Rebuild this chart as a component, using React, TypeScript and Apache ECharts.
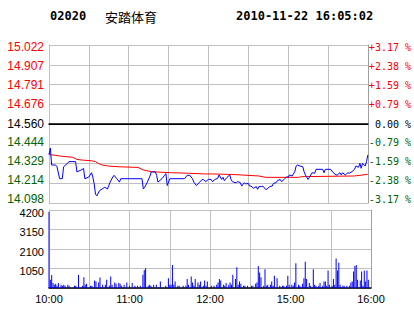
import React, { useEffect, useRef } from "react";
import * as echarts from "echarts";

const stockCode = "02020";
const stockName = "安踏体育";
const timestamp = "2010-11-22 16:05:02";
const prevClose = 14.56;
const priceStep = 0.1155;
const priceLabels = ["15.022", "14.907", "14.791", "14.676", "14.560", "14.444", "14.329", "14.214", "14.098"];
const percentLabels = ["+3.17 %", "+2.38 %", "+1.59 %", "+0.79 %", " 0.00 %", "-0.79 %", "-1.59 %", "-2.38 %", "-3.17 %"];
const volumeLabels = ["", "1050", "2100", "3150", "4200"];
const timeLabels = ["10:00", "", "11:00", "", "12:00", "", "15:00", "", "16:00"];

const priceMinutes = [0, 1, 2, 5, 6, 8, 10, 11, 14, 15, 20, 21, 24, 26, 27, 30, 32, 33, 34, 35, 36, 38, 40, 42, 44, 45, 46, 48, 49, 51, 53, 54, 70, 71, 72, 74, 76, 77, 80, 81, 82, 85, 87, 88, 89, 91, 102, 104, 106, 108, 109, 111, 113, 115, 116, 118, 120, 122, 123, 125, 127, 128, 130, 131, 132, 134, 136, 137, 138, 140, 141, 142, 144, 145, 147, 148, 150, 151, 152, 154, 156, 157, 158, 160, 161, 163, 164, 166, 168, 169, 171, 172, 174, 175, 177, 179, 180, 181, 183, 185, 186, 187, 189, 191, 192, 193, 195, 196, 197, 198, 200, 201, 204, 206, 207, 208, 210, 212, 214, 216, 217, 219, 220, 221, 223, 225, 226, 228, 230, 231, 233, 234, 235, 236, 238, 239, 240];
const priceValues = [14.38, 14.42, 14.32, 14.32, 14.31, 14.24, 14.24, 14.31, 14.33, 14.34, 14.34, 14.28, 14.29, 14.30, 14.24, 14.25, 14.275, 14.25, 14.21, 14.15, 14.14, 14.17, 14.18, 14.19, 14.18, 14.20, 14.22, 14.25, 14.26, 14.24, 14.22, 14.24, 14.24, 14.18, 14.19, 14.22, 14.255, 14.28, 14.28, 14.26, 14.22, 14.24, 14.26, 14.27, 14.20, 14.24, 14.24, 14.26, 14.26, 14.24, 14.22, 14.20, 14.217, 14.233, 14.236, 14.223, 14.236, 14.236, 14.223, 14.236, 14.242, 14.262, 14.236, 14.248, 14.229, 14.248, 14.262, 14.236, 14.223, 14.217, 14.217, 14.223, 14.217, 14.197, 14.217, 14.209, 14.213, 14.197, 14.197, 14.184, 14.194, 14.178, 14.194, 14.194, 14.197, 14.178, 14.178, 14.194, 14.197, 14.213, 14.217, 14.229, 14.236, 14.223, 14.236, 14.252, 14.248, 14.262, 14.256, 14.281, 14.314, 14.320, 14.314, 14.310, 14.281, 14.262, 14.236, 14.248, 14.262, 14.275, 14.272, 14.295, 14.295, 14.295, 14.275, 14.295, 14.295, 14.295, 14.275, 14.262, 14.262, 14.275, 14.262, 14.275, 14.262, 14.275, 14.272, 14.281, 14.295, 14.314, 14.307, 14.330, 14.301, 14.330, 14.314, 14.340, 14.379];

const avgMinutes = [0, 1, 3, 8, 18, 21, 25, 32, 35, 37, 40, 45, 52, 67, 71, 77, 92, 105, 117, 123, 140, 158, 163, 188, 190, 230, 240];
const avgValues = [14.388, 14.379, 14.379, 14.373, 14.365, 14.353, 14.349, 14.345, 14.340, 14.330, 14.320, 14.314, 14.310, 14.306, 14.291, 14.281, 14.275, 14.272, 14.268, 14.268, 14.264, 14.256, 14.248, 14.248, 14.252, 14.256, 14.266];

const volMinutes = [0, 1, 2, 3, 4, 5, 6, 7, 9, 10, 11, 12, 14, 15, 19, 20, 22, 25, 26, 27, 28, 31, 32, 34, 35, 37, 38, 40, 42, 43, 45, 46, 47, 49, 50, 52, 53, 54, 56, 58, 60, 62, 64, 66, 68, 70, 71, 72, 74, 75, 76, 78, 80, 83, 87, 89, 90, 91, 92, 93, 94, 96, 97, 100, 102, 103, 104, 106, 107, 108, 109, 111, 112, 113, 115, 116, 117, 118, 121, 123, 125, 126, 127, 128, 130, 131, 132, 134, 135, 136, 137, 139, 140, 141, 142, 143, 145, 146, 148, 151, 152, 154, 155, 156, 157, 158, 160, 161, 162, 163, 165, 166, 167, 168, 170, 172, 174, 175, 177, 178, 179, 181, 182, 183, 184, 186, 187, 189, 190, 191, 192, 194, 195, 197, 198, 199, 201, 202, 204, 205, 206, 207, 208, 209, 211, 212, 213, 214, 215, 216, 217, 219, 220, 222, 224, 225, 226, 227, 228, 229, 230, 232, 233, 234, 235, 236, 237, 238];
const volValues = [4100, 440, 700, 265, 177, 230, 124, 265, 177, 124, 177, 124, 177, 124, 124, 124, 700, 124, 584, 177, 230, 124, 124, 407, 354, 300, 566, 177, 177, 442, 124, 620, 177, 300, 230, 265, 230, 124, 177, 300, 124, 265, 124, 124, 124, 708, 974, 1062, 124, 177, 124, 177, 177, 354, 124, 531, 177, 177, 1239, 177, 354, 124, 124, 124, 124, 478, 177, 620, 300, 124, 478, 300, 177, 354, 124, 407, 124, 354, 124, 124, 177, 300, 478, 407, 177, 124, 265, 177, 300, 177, 708, 478, 1115, 177, 354, 230, 124, 124, 124, 124, 124, 230, 300, 1186, 832, 584, 124, 1009, 124, 177, 177, 354, 124, 655, 531, 124, 124, 124, 124, 655, 177, 177, 124, 300, 1328, 177, 124, 230, 531, 1416, 478, 265, 124, 1009, 177, 124, 124, 265, 124, 354, 354, 124, 938, 177, 124, 478, 177, 1593, 938, 1363, 177, 124, 124, 124, 124, 300, 354, 885, 1186, 1239, 442, 407, 885, 124, 938, 354, 938, 442];

const GRAY = "#c0c0c0";
const GREEN = "#006400";
const nb = (s: string) => s.replace(/ /g, "\u00a0");

// vertical nudge (px, + = down) of each price-axis label, to sit as in the reference
const shiftPadding = (d: number) => (d >= 0 ? [2 * d, 0, 0, 0] : [0, 0, -2 * d, 0]);

export default function App() {
  const ref = useRef<HTMLDivElement>(null);
  useEffect(() => {
    document.body.style.margin = "0";
    const chart = echarts.init(ref.current!, null, { renderer: "svg" });
    const pMin = -4 * priceStep;
    const pMax = 4 * priceStep;
    const idxOf = (v: number) => Math.round((pMax - v) / priceStep);
    const colorOf = (i: number) => (i < 4 ? "#ff0000" : i === 4 ? "#000" : GREEN);
    const shiftOf = (i: number) => (i === 4 ? 0 : 2.3 - 0.75 * i);
    const leftRich: any = {};
    const rightRich: any = {};
    for (let i = 0; i < 9; i++) {
      leftRich["p" + i] = { fontFamily: "Liberation Sans, Arial", fontSize: 12, color: colorOf(i), padding: shiftPadding(shiftOf(i)) };
      rightRich["p" + i] = { fontFamily: "DejaVu Sans Mono", fontSize: 10, color: colorOf(i), padding: shiftPadding(shiftOf(i)) };
    }
    const volRich = { v: { fontFamily: "Liberation Sans, Arial", fontSize: 11, color: "#000", padding: shiftPadding(2.6) } };
    const xCommon = {
      type: "value" as const,
      min: 0,
      max: 240,
      interval: 30,
      axisTick: { show: false },
      splitLine: { show: true, lineStyle: { color: GRAY, width: 1 } },
    };
    chart.setOption({
      animation: false,
      grid: [
        { left: 49, right: 43, top: 45, height: 158 },
        { left: 49, right: 43, top: 210, height: 78 },
      ],
      graphic: [
        { type: "text", x: 50, y: 16, style: { text: stockCode, font: 'bold 12px "DejaVu Sans Mono"', fill: "#000", verticalAlign: "middle" } },
        { type: "text", x: 105, y: 16, style: { text: stockName, font: '13px "Noto Sans CJK SC"', fill: "#000", verticalAlign: "middle" } },
        { type: "text", x: 236, y: 16, style: { text: timestamp, font: 'bold 12px "DejaVu Sans Mono"', fill: "#000", verticalAlign: "middle" } },
      ],
      xAxis: [
        { ...xCommon, gridIndex: 0, axisLabel: { show: false }, axisLine: { show: true, lineStyle: { color: "#000", width: 1.5 } } },
        {
          ...xCommon,
          gridIndex: 1,
          axisLine: { show: true, lineStyle: { color: "#000", width: 1.5 } },
          axisLabel: {
            show: true,
            margin: 5,
            color: "#000",
            fontFamily: "Liberation Sans, Arial",
            fontSize: 11,
            formatter: (v: number) => timeLabels[Math.round(v / 30)] ?? "",
          },
        },
      ],
      yAxis: [
        {
          type: "value",
          gridIndex: 0,
          min: pMin,
          max: pMax,
          interval: priceStep,
          axisLine: { show: true, lineStyle: { color: GRAY } },
          axisTick: { show: false },
          splitLine: { show: true, lineStyle: { color: GRAY } },
          axisLabel: {
            margin: 5,
            formatter: (v: number) => {
              const i = idxOf(v);
              return `{p${i}|${priceLabels[i] ?? ""}}`;
            },
            rich: leftRich,
          },
        },
        {
          type: "value",
          gridIndex: 0,
          position: "right",
          min: pMin,
          max: pMax,
          interval: priceStep,
          axisLine: { show: true, lineStyle: { color: "#a0a0a0" } },
          axisTick: { show: false },
          splitLine: { show: false },
          axisLabel: {
            margin: 1,
            align: "left",
            formatter: (v: number) => {
              const i = idxOf(v);
              return `{p${i}|${nb(percentLabels[i] ?? "")}}`;
            },
            rich: rightRich,
          },
        },
        {
          type: "value",
          gridIndex: 1,
          min: 0,
          max: 4200,
          interval: 1050,
          axisLine: { show: true, lineStyle: { color: GRAY } },
          axisTick: { show: false },
          splitLine: { show: true, lineStyle: { color: GRAY } },
          axisLabel: {
            margin: 5,
            formatter: (v: number) => {
              const t = volumeLabels[Math.round(v / 1050)] ?? "";
              return t ? `{v|${t}}` : "";
            },
            rich: volRich,
          },
        },
        {
          type: "value",
          gridIndex: 1,
          position: "right",
          min: 0,
          max: 4200,
          interval: 1050,
          axisLine: { show: true, lineStyle: { color: "#a0a0a0" } },
          axisTick: { show: false },
          splitLine: { show: false },
          axisLabel: { show: false },
        },
      ],
      series: [
        {
          type: "line",
          xAxisIndex: 0,
          yAxisIndex: 0,
          data: avgMinutes.map((m, i) => [m, avgValues[i] - prevClose]),
          showSymbol: false,
          lineStyle: { color: "#ff0000", width: 1 },
          itemStyle: { color: "#ff0000" },
          silent: true,
          z: 3,
        },
        {
          type: "line",
          xAxisIndex: 0,
          yAxisIndex: 0,
          data: priceMinutes.map((m, i) => [m, priceValues[i] - prevClose]),
          showSymbol: false,
          lineStyle: { color: "#0000ff", width: 1 },
          itemStyle: { color: "#0000ff" },
          silent: true,
          z: 4,
          markLine: {
            silent: true,
            symbol: "none",
            label: { show: false },
            lineStyle: { color: "#000", width: 1, type: "solid" },
            data: [{ yAxis: 0 }],
          },
        },
        {
          type: "bar",
          xAxisIndex: 1,
          yAxisIndex: 2,
          data: volMinutes.map((m, i) => [m, volValues[i]]),
          barWidth: 1,
          itemStyle: { color: "#0000ff" },
          silent: true,
        },
      ],
    });
    return () => chart.dispose();
  }, []);
  return <div ref={ref} style={{ width: 414, height: 314 }} />;
}
